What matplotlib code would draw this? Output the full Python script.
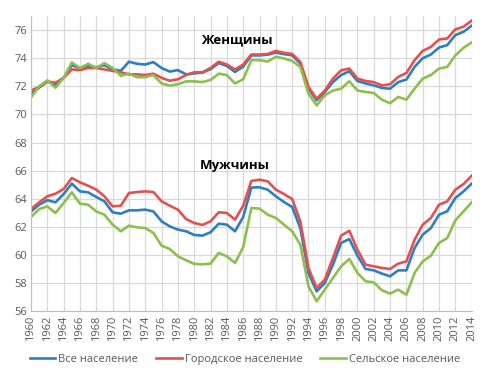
import matplotlib.pyplot as plt

plt.rcParams['font.family'] = ['Open Sans', 'DejaVu Sans']

years = list(range(1960, 2015))

women_all = [71.5, 71.9, 72.35, 72.1, 72.6, 73.5, 73.3, 73.45, 73.35, 73.5,
             73.2, 73.1, 73.75, 73.6, 73.55, 73.72, 73.3, 73.05, 73.15, 72.85,
             72.92, 72.97, 73.22, 73.65, 73.45, 73.02, 73.4, 74.2, 74.2, 74.25,
             74.4, 74.29, 74.2, 73.62, 71.83, 71.0, 71.6, 72.3, 72.8, 73.07,
             72.38, 72.2, 72.07, 71.88, 71.83, 72.3, 72.48, 73.38, 74.0, 74.26,
             74.76, 74.93, 75.64, 75.88, 76.31]
women_urban = [71.7, 71.95, 72.35, 72.25, 72.6, 73.2, 73.15, 73.3, 73.3, 73.2,
               73.1, 73.0, 72.85, 72.85, 72.8, 72.9, 72.6, 72.4, 72.5, 72.8,
               73.0, 73.0, 73.3, 73.75, 73.55, 73.2, 73.55, 74.26, 74.26, 74.3,
               74.52, 74.38, 74.3, 73.74, 71.95, 71.12, 71.7, 72.55, 73.14, 73.26,
               72.55, 72.38, 72.3, 72.07, 72.14, 72.67, 72.95, 73.86, 74.52, 74.8,
               75.33, 75.4, 76.05, 76.24, 76.67]
women_rural = [71.2, 72.0, 72.43, 71.9, 72.6, 73.7, 73.3, 73.6, 73.3, 73.65,
               73.3, 72.75, 72.9, 72.65, 72.65, 72.8, 72.2, 72.05, 72.15, 72.35,
               72.35, 72.3, 72.45, 72.9, 72.8, 72.2, 72.5, 73.86, 73.86, 73.76,
               74.1, 73.98, 73.8, 73.38, 71.48, 70.64, 71.36, 71.7, 71.83, 72.36,
               71.7, 71.6, 71.52, 71.05, 70.8, 71.24, 71.05, 71.83, 72.55, 72.8,
               73.26, 73.38, 74.2, 74.74, 75.12]

men_all = [63.1, 63.58, 63.9, 63.75, 64.34, 65.08, 64.53, 64.46, 64.13, 63.82,
           63.04, 62.94, 63.18, 63.18, 63.23, 63.1, 62.4, 62.04, 61.81, 61.69,
           61.43, 61.38, 61.62, 62.23, 62.16, 61.69, 62.71, 64.8, 64.82, 64.65,
           64.18, 63.77, 63.42, 61.92, 58.72, 57.42, 58.01, 59.32, 60.86, 61.14,
           59.96, 59.01, 58.91, 58.68, 58.49, 58.91, 58.91, 60.5, 61.45, 61.92,
           62.87, 63.11, 64.06, 64.53, 65.08]
men_urban = [63.27, 63.75, 64.18, 64.36, 64.7, 65.48, 65.17, 64.93, 64.65, 64.18,
             63.46, 63.51, 64.41, 64.48, 64.53, 64.48, 63.82, 63.51, 63.23, 62.56,
             62.28, 62.14, 62.4, 63.04, 62.99, 62.52, 63.51, 65.27, 65.36, 65.24,
             64.65, 64.34, 63.99, 62.4, 59.08, 57.66, 58.25, 59.79, 61.38, 61.73,
             60.38, 59.32, 59.2, 59.08, 59.01, 59.39, 59.55, 61.09, 62.16, 62.64,
             63.58, 63.82, 64.65, 65.05, 65.64]
men_rural = [62.7, 63.27, 63.46, 62.99, 63.7, 64.46, 63.65, 63.58, 63.1, 62.87,
             62.16, 61.69, 62.09, 61.97, 61.92, 61.57, 60.67, 60.43, 59.91, 59.63,
             59.37, 59.34, 59.39, 60.15, 59.91, 59.44, 60.57, 63.35, 63.3, 62.87,
             62.64, 62.16, 61.69, 60.74, 57.78, 56.71, 57.54, 58.37, 59.2, 59.72,
             58.73, 58.13, 58.06, 57.49, 57.26, 57.54, 57.18, 58.73, 59.55, 59.96,
             60.86, 61.21, 62.47, 63.11, 63.75]

labels = ['Все население', 'Городское население', 'Сельское население']
colors = ['#2E7EC1', '#E3514F', '#8DBF4E']

fig = plt.figure(figsize=(4.9, 3.82), dpi=100)
ax = fig.add_axes([31 / 490, 1 - 311.3 / 382, (471.7 - 31) / 490, (311.3 - 16) / 382])

for women, men, lab, c in zip([women_all, women_urban, women_rural],
                              [men_all, men_urban, men_rural], labels, colors):
    ax.plot(years, women, color=c, lw=1.9, label=lab)
    ax.plot(years, men, color=c, lw=1.9)

ax.set_xlim(1960, 2014)
ax.set_ylim(56, 77)
ax.set_xticks(range(1960, 2015, 2))
ax.set_xticklabels([str(y) for y in range(1960, 2015, 2)], rotation=90)
ax.set_yticks(range(56, 77, 2))
ax.grid(True, color='#D9D9D9', lw=0.9)
ax.set_axisbelow(True)
ax.tick_params(length=0, colors='#595959', labelsize=8, pad=3)
for s in ['top', 'right']:
    ax.spines[s].set_visible(False)
for s in ['left', 'bottom']:
    ax.spines[s].set_color('#BFBFBF')

ax.text(1985.2, 75.3, 'Женщины', fontsize=9.5, fontweight='bold', ha='center', va='center')
ax.text(1985.0, 66.4, 'Мужчины', fontsize=9.5, fontweight='bold', ha='center', va='center')

fig.legend(loc='center', bbox_to_anchor=(0.5, 0.058), ncol=3, frameon=False,
           fontsize=8, labelcolor='#595959', handlelength=2.3, columnspacing=1.6,
           handletextpad=0.3)

fig.savefig('out.png', dpi=100)
